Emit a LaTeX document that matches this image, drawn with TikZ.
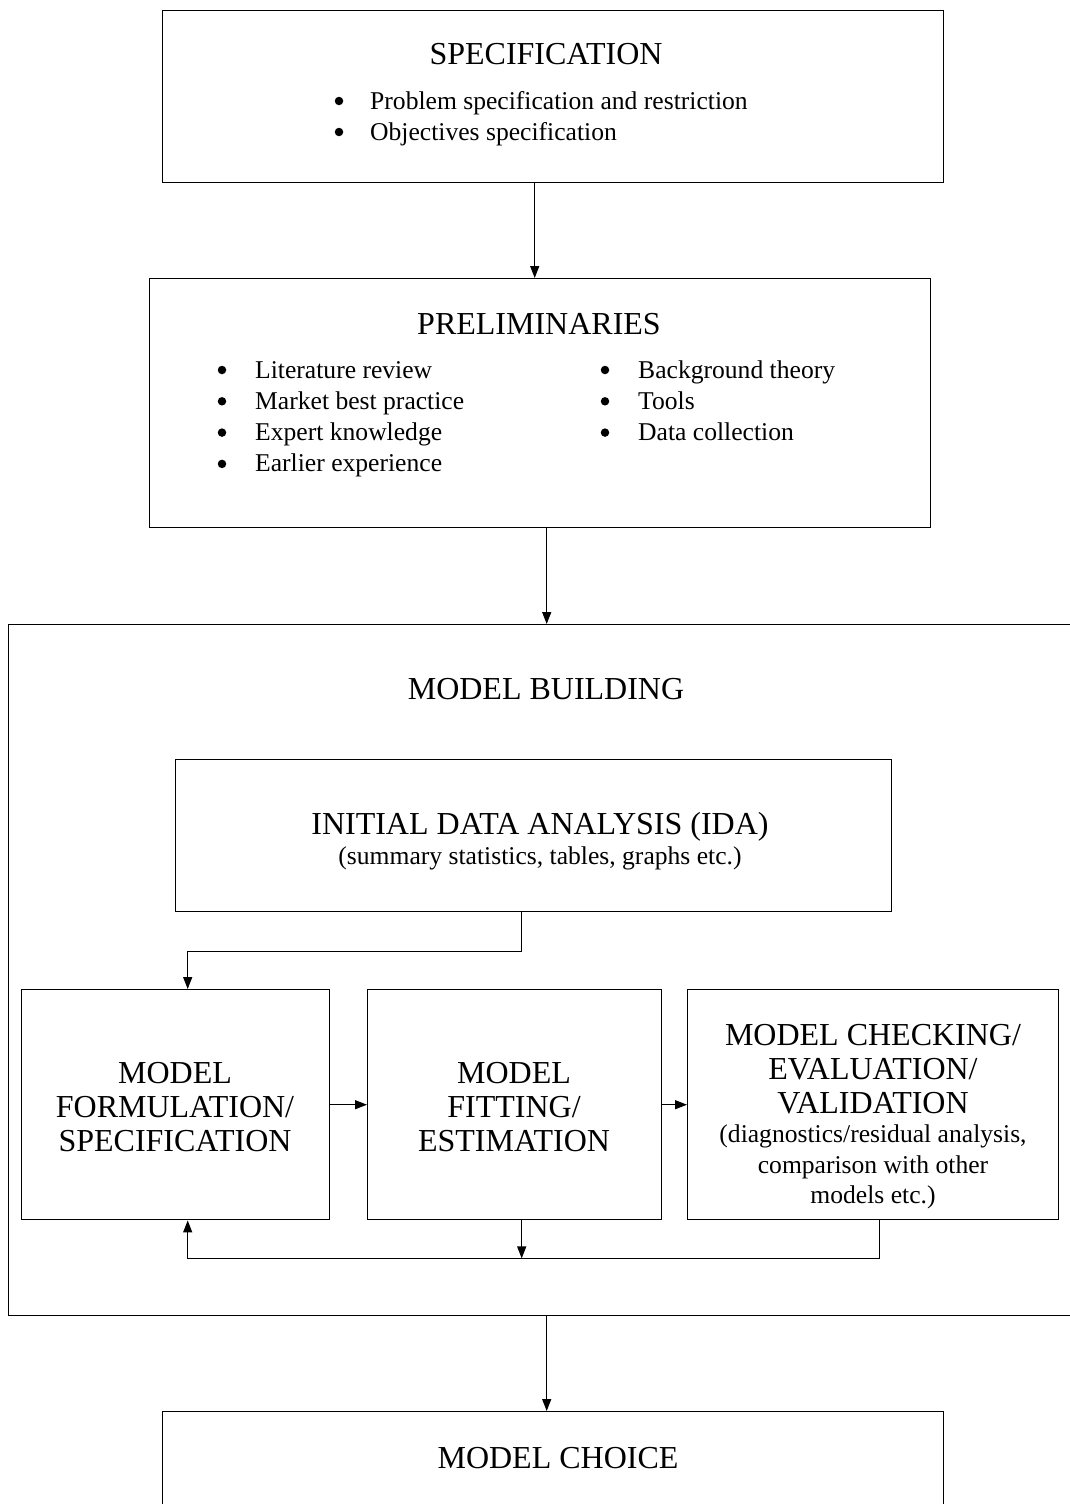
\documentclass[tikz,border=0pt]{standalone}
\usepackage{fontspec}
\setmainfont{Liberation Serif}
\usetikzlibrary{arrows.meta}
\begin{document}
\begin{tikzpicture}[x=1pt,y=-1pt,
  box/.style={draw, line width=1.4pt, rectangle, inner sep=0pt, anchor=north west},
  big/.style={font=\fontsize{32}{34}\selectfont, inner sep=0pt, align=center},
  small/.style={font=\fontsize{25.6}{30.5}\selectfont, inner sep=0pt, align=center},
  item/.style={font=\fontsize{25.6}{30.5}\selectfont, inner sep=0pt, anchor=base west},
  dot/.style={circle, fill, inner sep=0pt, minimum size=8.5pt},
  arr/.style={-{Triangle[length=12pt,width=9pt]}, line width=1.3pt}]
\useasboundingbox (0,0) rectangle (1070,1504);
\clip (0,0) rectangle (1070,1504);
\fill[white] (0,0) rectangle (1070,1504);

% boxes
\node[box, minimum width=781, minimum height=172] (spec) at (162,10) {};
\node[box, minimum width=781, minimum height=249] (prelim) at (149,278) {};
\node[box, minimum width=1076, minimum height=691] (build) at (8,624) {};
\node[box, minimum width=716, minimum height=152] (ida) at (175,759) {};
\node[box, minimum width=308, minimum height=230] (form) at (21,989) {};
\node[box, minimum width=294, minimum height=230] (fit) at (367,989) {};
\node[box, minimum width=371, minimum height=230] (check) at (687,989) {};
\node[box, minimum width=781, minimum height=140] (choice) at (162,1411) {};

% texts
\node[big, anchor=base] (specT) at (546,64) {SPECIFICATION};
\foreach \t [count=\i] in {Problem specification and restriction, Objectives specification} {
  \node[dot] (sd\i) at (339,{101+31*(\i-1)}) {};
  \node[item] (st\i) at (370,{109+31*(\i-1)}) {\t};
}
\node[big, anchor=base] (prelimT) at (539,334) {PRELIMINARIES};
\foreach \t [count=\i] in {Literature review, Market best practice, Expert knowledge, Earlier experience} {
  \node[dot] (pld\i) at (222,{370+31.3*(\i-1)}) {};
  \node[item] (plt\i) at (255,{378+31.3*(\i-1)}) {\t};
}
\foreach \t [count=\i] in {Background theory, Tools, Data collection} {
  \node[dot] (prd\i) at (605,{370+31.3*(\i-1)}) {};
  \node[item] (prt\i) at (638,{378+31.3*(\i-1)}) {\t};
}
\node[big, anchor=base] (buildT) at (546,699) {MODEL BUILDING};
\node[big, anchor=base] (idaT) at (540,834) {INITIAL DATA ANALYSIS (IDA)};
\node[small, anchor=base] (idaS) at (540,864) {(summary statistics, tables, graphs etc.)};
\node[big] (formT) at (175,1107) {MODEL\\FORMULATION/\\SPECIFICATION};
\node[big] (fitT) at (514,1107) {MODEL\\FITTING/\\ESTIMATION};
\node[big] (checkT) at (873,1069) {MODEL CHECKING/\\EVALUATION/\\VALIDATION};
\node[small] (checkS) at (873,1167) {(diagnostics/residual analysis,\\comparison with other\\models etc.)};
\node[big, anchor=base] (choiceT) at (558,1468) {MODEL CHOICE};

% connectors
\draw[arr] ([xshift=-18.5]spec.south) -- ([xshift=-5.5]prelim.north);
\draw[arr] ([xshift=6.5]prelim.south) -- (build.north);
\draw[arr] (build.south) -- ([xshift=-6.5]choice.north);
\draw[arr] ([xshift=-12]ida.south) -- ++(0,39) -| ([xshift=12]form.north);
\draw[arr] (form.east) -- (fit.west);
\draw[arr] (fit.east) -- (check.west);
\draw[arr] ([xshift=7]fit.south) -- ++(0,38);
\draw[arr] ([xshift=6.5]check.south) -- ++(0,38) -| ([xshift=12]form.south);
\end{tikzpicture}
\end{document}
